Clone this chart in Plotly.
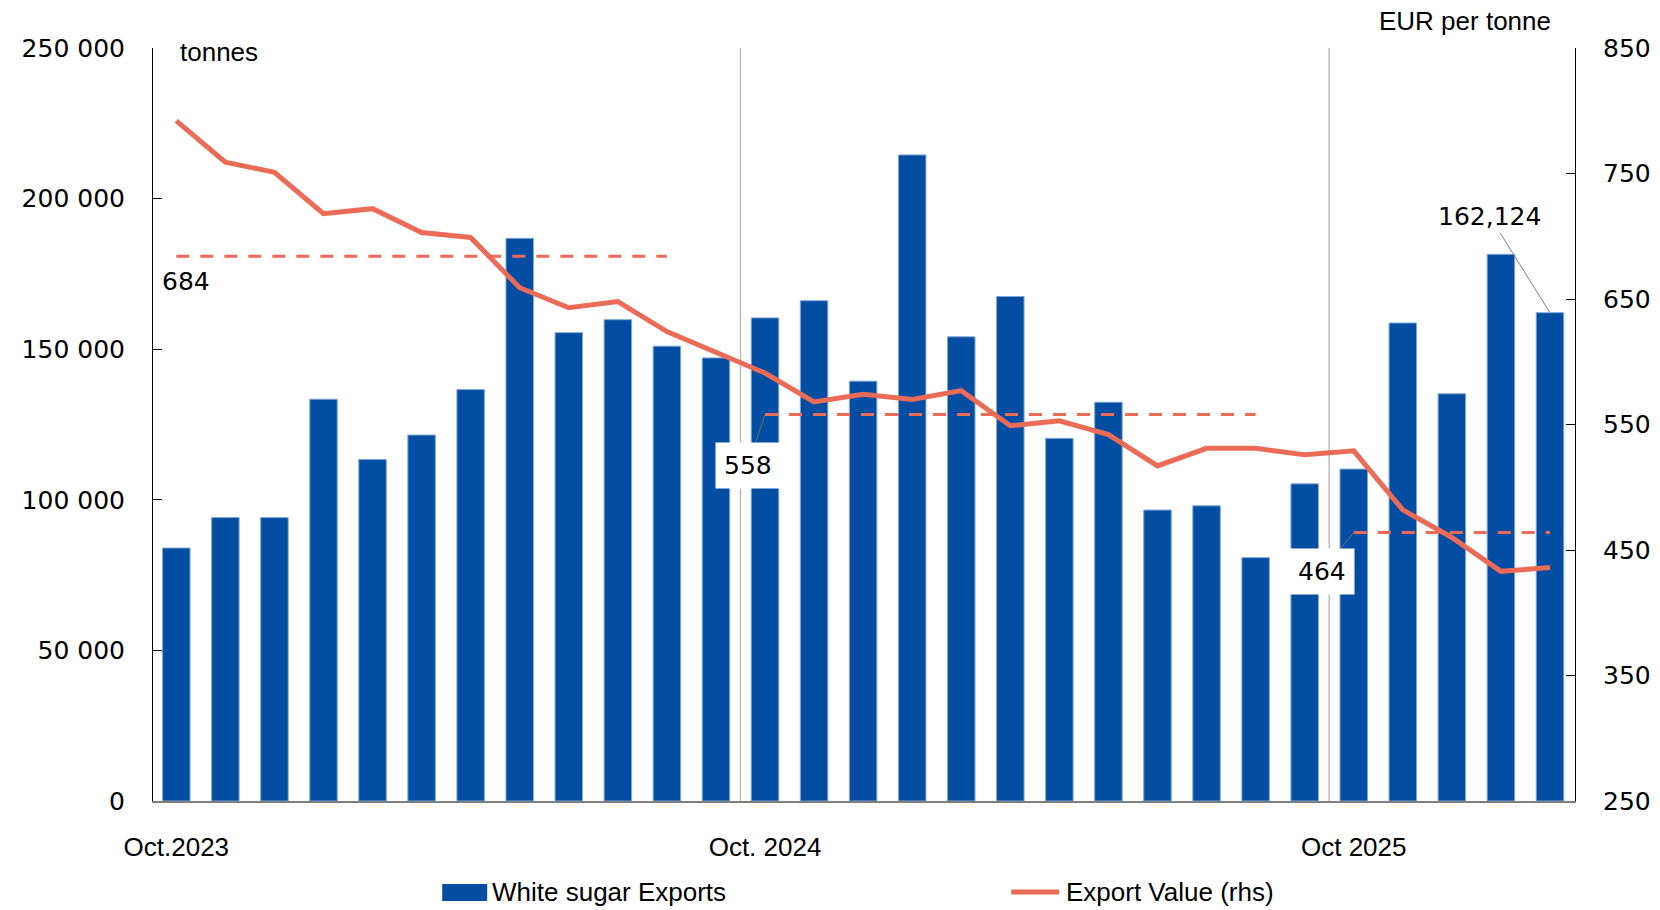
import plotly.graph_objects as go

months = ["2023-10", "2023-11", "2023-12", "2024-01", "2024-02", "2024-03", "2024-04",
          "2024-05", "2024-06", "2024-07", "2024-08", "2024-09", "2024-10", "2024-11",
          "2024-12", "2025-01", "2025-02", "2025-03", "2025-04", "2025-05", "2025-06",
          "2025-07", "2025-08", "2025-09", "2025-10", "2025-11", "2025-12", "2026-01",
          "2026-02"]

exports = [84000, 94100, 94100, 133400, 113400, 121500, 136600, 186800, 155500, 159800,
           151000, 147100, 160400, 166100, 139400, 214500, 154100, 167500, 120400, 132400,
           96600, 98000, 80800, 105300, 110200, 158700, 135200, 181500, 162124]

export_value = [792, 759, 751, 718, 722, 703, 699, 659, 643, 648, 624, 607, 591, 568,
                574, 570, 577, 549, 553, 542, 517, 531, 531, 526, 529, 482, 460, 433, 436]

season_avg = [684, 558, 464]
season_months = [months[0:11], months[12:23], months[24:29]]

tick_months = [months[0], months[12], months[24]]
tick_text = ["Oct.2023", "Oct. 2024", "Oct 2025"]

left_ticks = [0, 50000, 100000, 150000, 200000, 250000]
right_ticks = [250, 350, 450, 550, 650, 750, 850]

BLUE = "#034EA2"
RED = "#EC6B56"
FONT = "Liberation Sans"
NUMFONT = dict(family="DejaVu Sans", size=25, color="black")

fig = go.Figure()
fig.add_trace(go.Bar(x=months, y=exports, name="White sugar Exports",
                     marker=dict(color=BLUE, line=dict(width=1, color="#7FA6D6")),
                     width=0.56))
for avg, sm in zip(season_avg, season_months):
    fig.add_trace(go.Scatter(x=sm, y=[avg] * len(sm), yaxis="y2", mode="lines",
                             line=dict(color=RED, width=3, dash="13px,11px"),
                             showlegend=False, hoverinfo="skip"))
fig.add_trace(go.Scatter(x=months, y=export_value, yaxis="y2", mode="lines",
                         name="Export Value (rhs)", line=dict(color=RED, width=5)))

shapes = []
for xv in [11.5, 23.5]:
    shapes.append(dict(type="line", xref="x", yref="paper", x0=xv, x1=xv, y0=0, y1=1,
                       line=dict(color="#BDBDBD", width=1.5), layer="below"))
# custom legend
shapes.append(dict(type="rect", xref="paper", yref="paper", x0=0.2034, x1=0.2350,
                   y0=-0.1328, y1=-0.1102, fillcolor=BLUE, line=dict(width=0)))
shapes.append(dict(type="line", xref="paper", yref="paper", x0=0.6035, x1=0.6372,
                   y0=-0.1208, y1=-0.1208, line=dict(color=RED, width=5)))

annotations = [
    dict(text="tonnes", xref="paper", yref="paper", x=0.0178, y=1, xanchor="left",
         yanchor="middle", yshift=-4, showarrow=False),
    dict(text="EUR per tonne", xref="paper", yref="paper", x=0.9845, y=1, xanchor="right",
         yanchor="middle", yshift=27, showarrow=False),
    dict(text="White sugar Exports", xref="paper", yref="paper", x=0.2372, y=-0.1208,
         xanchor="left", yanchor="middle", showarrow=False),
    dict(text="Export Value (rhs)", xref="paper", yref="paper", x=0.6407, y=-0.1208,
         xanchor="left", yanchor="middle", showarrow=False),
    dict(text=str(season_avg[0]), x=season_months[0][0], y=season_avg[0], xref="x", yref="y2",
         showarrow=False, xshift=10, yshift=-25, font=NUMFONT),
    dict(text=str(season_avg[1]), x=season_months[1][0], y=season_avg[1], xref="x", yref="y2",
         showarrow=True, arrowhead=0, arrowwidth=1, arrowcolor="#707070", ax=-17, ay=51,
         bgcolor="white", borderpad=8, font=NUMFONT),
    dict(text=str(season_avg[2]), x=season_months[2][0], y=season_avg[2], xref="x", yref="y2",
         showarrow=True, arrowhead=0, arrowwidth=1, arrowcolor="#707070", ax=-32, ay=39,
         bgcolor="white", borderpad=8, font=NUMFONT),
    dict(text=f"{exports[-1]:,}", x=months[-1], y=exports[-1], xref="x", yref="y",
         showarrow=True, arrowhead=0, arrowwidth=1, arrowcolor="#808080", ax=-60, ay=-96,
         font=NUMFONT),
]

fig.update_layout(
    width=1660, height=910,
    margin=dict(l=153, r=85, t=48, b=109, autoexpand=False),
    paper_bgcolor="white", plot_bgcolor="white",
    font=dict(family=FONT, size=26, color="black"),
    separators=". ",
    showlegend=False,
    shapes=shapes,
    annotations=annotations,
    xaxis=dict(type="category", range=[-0.475, 28.51], tickvals=tick_months,
               ticktext=tick_text, showline=True, linecolor="#7F7F7F", linewidth=2,
               ticks="", showgrid=False, zeroline=False, ticklabelstandoff=22,
               automargin=False),
    yaxis=dict(range=[0, 250000], tickvals=left_ticks, tickformat=",d", showline=True,
               linecolor="black", linewidth=1, ticks="inside", ticklen=9, tickcolor="black",
               showgrid=False, zeroline=False, ticklabelstandoff=22, tickfont=NUMFONT,
               automargin=False),
    yaxis2=dict(range=[250, 850], tickvals=right_ticks, overlaying="y", side="right",
                showline=True, linecolor="black", linewidth=1, ticks="inside", ticklen=9,
                tickcolor="black", showgrid=False, zeroline=False, ticklabelstandoff=22,
                tickfont=NUMFONT, automargin=False),
)

fig.write_html("out.html", post_script="document.body.style.margin='0';",
               config={"displayModeBar": False})
